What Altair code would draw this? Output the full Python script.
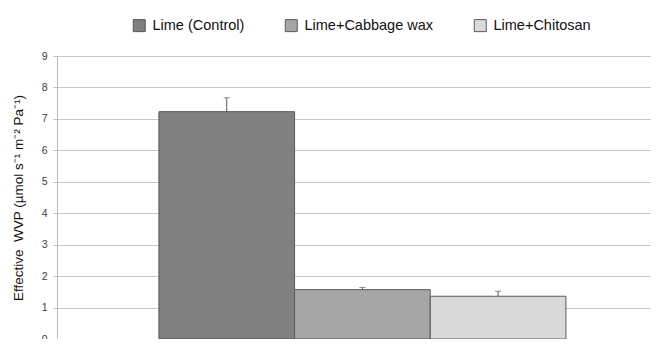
import altair as alt
import pandas as pd

treatments = ["Lime (Control)", "Lime+Cabbage wax", "Lime+Chitosan"]
wvp = [7.23, 1.57, 1.36]
err = [0.44, 0.07, 0.16]
colors = ["#808080", "#a6a6a6", "#d9d9d9"]
y_ticks = [0, 1, 2, 3, 4, 5, 6, 7, 8, 9]

df = pd.DataFrame({"treatment": treatments, "wvp": wvp, "err": err})
df["upper"] = df["wvp"] + df["err"]

FONT = "Liberation Sans"
EDGE = "#595959"

x_enc = alt.X(
    "treatment:N",
    sort=treatments,
    scale=alt.Scale(paddingInner=0, paddingOuter=0.689, align=0.545),
    axis=alt.Axis(labels=False, ticks=False, title=None, domainColor="#bfbfbf", grid=False),
)
y_scale = alt.Scale(domain=[0, 9], nice=False)
y_axis = alt.Axis(
    values=y_ticks,
    title="Effective\u00a0 WVP (µmol s⁻¹ m⁻² Pa⁻¹)",
    titleFont=FONT,
    titleFontSize=13.5,
    titleFontWeight="normal",
    titleColor="#111111",
    titlePadding=16,
    labelFont=FONT,
    labelFontSize=10.5,
    labelColor="#404040",
    labelPadding=6,
    tickSize=4,
    tickColor="#bfbfbf",
    domainColor="#bfbfbf",
    gridColor="#c8c8c8",
)

bars = alt.Chart(df).mark_bar(stroke=EDGE, strokeWidth=1).encode(
    x=x_enc,
    y=alt.Y("wvp:Q", scale=y_scale, axis=y_axis),
    color=alt.Color(
        "treatment:N",
        sort=treatments,
        scale=alt.Scale(domain=treatments, range=colors),
        legend=alt.Legend(
            title=None,
            orient="none",
            legendX=75,
            legendY=-38,
            direction="horizontal",
            columns=3,
            columnPadding=38,
            symbolType="square",
            symbolSize=144,
            symbolStrokeColor=EDGE,
            symbolStrokeWidth=1,
            labelFont=FONT,
            labelFontSize=14.5,
            labelColor="#111111",
            labelOffset=6,
            padding=0,
        ),
    ),
)

rule = alt.Chart(df).mark_rule(color=EDGE, strokeWidth=1).encode(
    x=x_enc, y=alt.Y("wvp:Q", scale=y_scale, axis=y_axis), y2="upper:Q"
)
cap = alt.Chart(df).mark_tick(color=EDGE, size=6, thickness=1, orient="horizontal").encode(
    x=x_enc, y=alt.Y("upper:Q", scale=y_scale, axis=y_axis)
)

chart = (
    alt.layer(bars, rule, cap)
    .properties(
        width=594,
        height=283,
        autosize=alt.AutoSizeParams(type="none"),
        padding={"top": 48, "left": 49, "right": 0, "bottom": 0},
    )
    .configure_view(strokeWidth=0)
    .configure(background="white")
)

chart.save("out.html", embed_options={"renderer": "svg", "actions": False})
